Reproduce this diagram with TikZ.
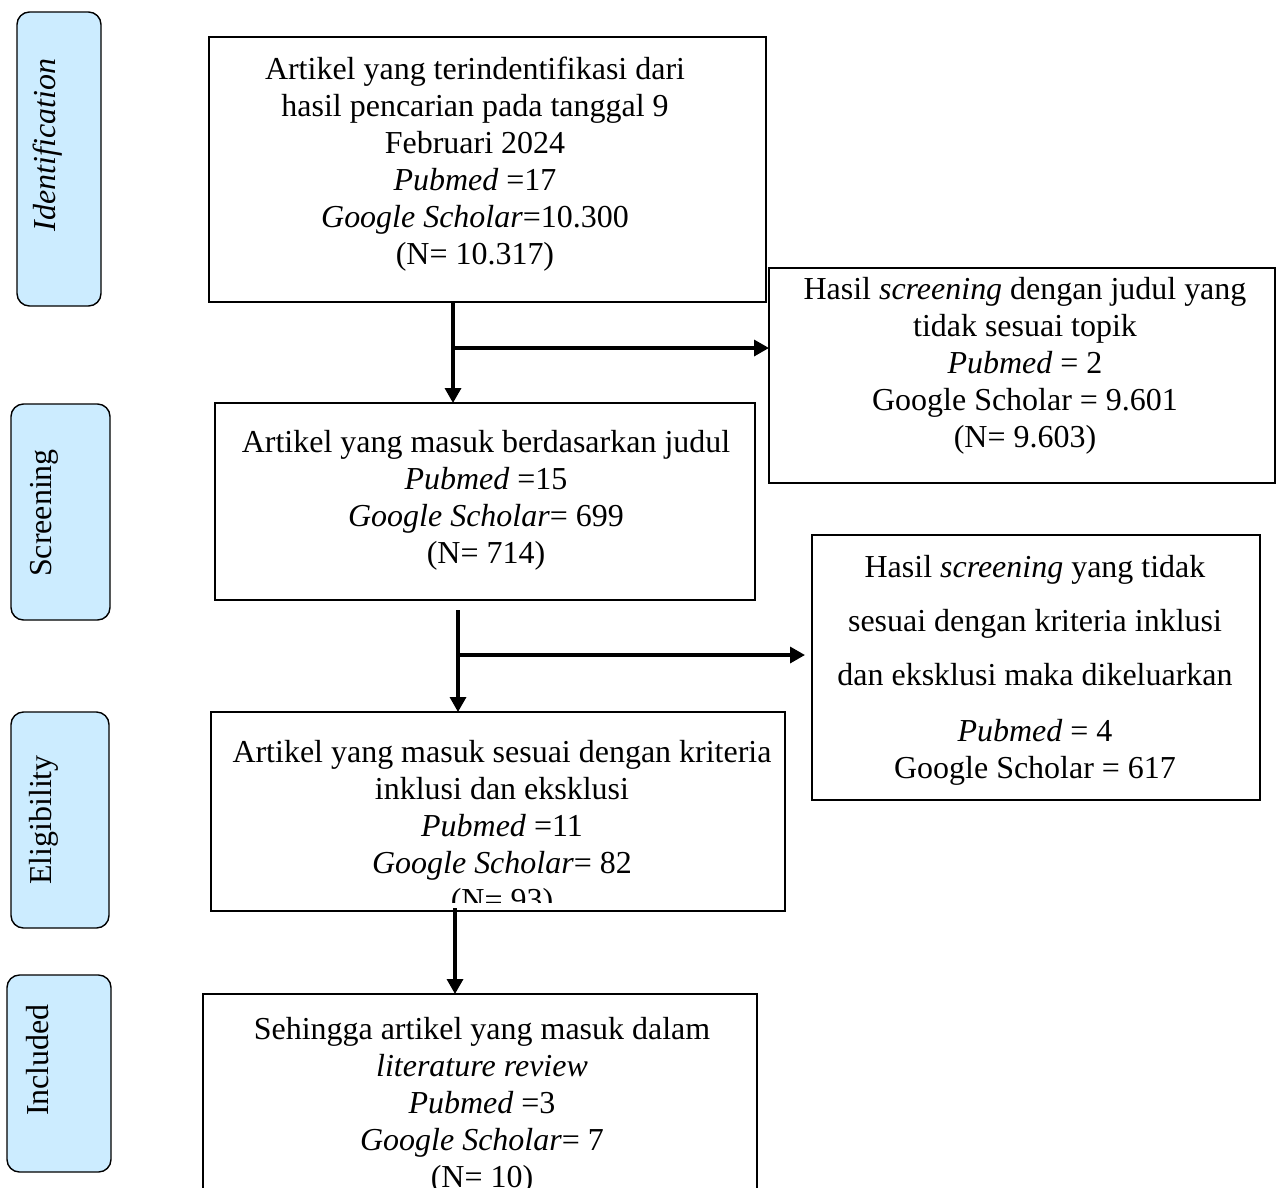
\documentclass[tikz,border=0pt]{standalone}
\usepackage{fontspec}
\setmainfont{Liberation Serif}
\usepackage{tikz}
\usetikzlibrary{fit,arrows.meta}
\definecolor{stageblue}{RGB}{204,236,255}

\tikzset{
    stage/.style={draw, line width=0.8pt, rounded corners=0.25cm, fill=stageblue, inner sep=0, outer sep=0},
    box/.style={draw, line width=1.1pt, inner sep=0, outer sep=0},
    txt/.style={align=center, inner sep=0, font=\fontsize{18.2}{21.06}\selectfont},
    flow/.style={line width=1.9pt, -{Triangle[length=0.3cm, width=0.32cm]}},
}

\begin{document}
\begin{tikzpicture}[x=0.02cm, y=-0.02cm]
    \useasboundingbox (0,0) rectangle (1277,1187);
    \clip (0,0) rectangle (1277,1187);

    % stage labels on the left
    \node [stage, fit={(17,12) (101,306)}] (ident) {};
    \node [stage, fit={(11,404) (110,620)}] (screen) {};
    \node [stage, fit={(11,712) (109,928)}] (elig) {};
    \node [stage, fit={(7,975) (111,1172)}] (incl) {};

    \node [txt, rotate=90] (identtxt) at (48,145) {\textit{Identification}};
    \node [txt, rotate=90] (screentxt) at (44,513) {Screening};
    \node [txt, rotate=90] (eligtxt) at (44,820) {Eligibility};
    \node [txt, rotate=90] (incltxt) at (38,1060) {Included};

    % main boxes
    \node [box, fit={(209,37) (766,302)}] (found) {};
    \node [box, fit={(769,268) (1275,483)}] (titleout) {};
    \node [box, fit={(215,403) (755,600)}] (titlein) {};
    \node [box, fit={(812,535) (1260,800)}] (critout) {};
    \node [box, fit={(211,712) (785,911)}] (critin) {};
    \node [box, fit={(203,994) (757,1220)}] (final) {};

    \node [txt] (foundtxt) at (475,164) {Artikel yang terindentifikasi dari\\ hasil pencarian pada tanggal 9\\ Februari 2024\\ \textit{Pubmed} =17\\ \textit{Google Scholar}=10.300\\ (N= 10.317)};
    \node [txt] (titleouttxt) at (1025,366) {Hasil \textit{screening} dengan judul yang\\ tidak sesuai topik\\ \textit{Pubmed} = 2\\ Google Scholar = 9.601\\ (N= 9.603)};
    \node [txt] (titleintxt) at (486,500) {Artikel yang masuk berdasarkan judul\\ \textit{Pubmed} =15\\ \textit{Google Scholar}= 699\\ (N= 714)};
    \node [txt] (critouttxt) at (1035,670) {Hasil \textit{screening} yang tidak\\[9.6pt] sesuai dengan kriteria inklusi\\[9.6pt] dan eksklusi maka dikeluarkan\\[10.8pt] \textit{Pubmed} = 4\\ Google Scholar = 617};

    % text that runs past the box is cut off
    \begin{scope}
        \clip (critin.north west) rectangle ([yshift=0.18cm]critin.south east);
        \node [txt] (critintxt) at (502,829) {Artikel yang masuk sesuai dengan kriteria\\ inklusi dan eksklusi\\ \textit{Pubmed} =11\\ \textit{Google Scholar}= 82\\ (N= 93)};
    \end{scope}
    \node [txt] (finaltxt) at (482,1106) {Sehingga artikel yang masuk dalam\\ \textit{literature review}\\ \textit{Pubmed} =3\\ \textit{Google Scholar}= 7\\ (N= 10)};

    % connectors
    \coordinate (split1) at (453,348);
    \coordinate (split2) at (458,655);
    \coordinate (start2) at (458,610);
    \coordinate (start3) at (455,908);

    \draw [flow] (split1 |- found.south) -- (split1 |- titlein.north);
    \draw [flow] (split1) -- (split1 -| titleout.west);
    \draw [flow] (start2) -- (split2 |- critin.north);
    \draw [flow, shorten >=0.14cm] (split2) -- (split2 -| critout.west);
    \draw [flow] (start3) -- (start3 |- final.north);

\end{tikzpicture}
\end{document}
